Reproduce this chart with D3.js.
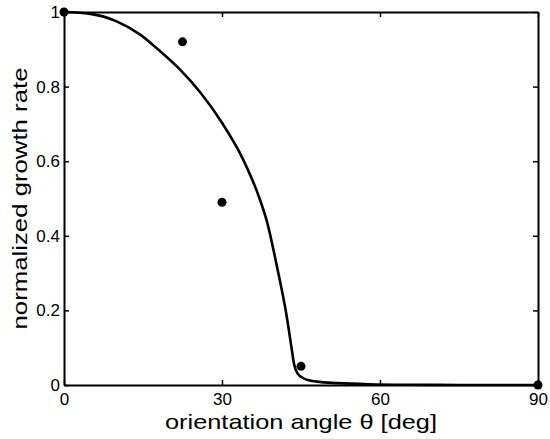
<!DOCTYPE html>
<html><head><meta charset="utf-8">
<script src="https://cdn.jsdelivr.net/npm/d3@7"></script>
<style>body{margin:0;background:#fff}svg text{font-family:"Liberation Sans",Arial,sans-serif;fill:#000}</style>
</head><body><svg id="c" width="550" height="439"></svg>
<script>
const curveTheta = [0, 5, 10, 14.4, 18, 22, 26, 30, 34, 37, 38.5, 40.4, 42.3, 43.2, 43.7, 44.3, 45.5, 48, 52, 58, 65, 75, 90];
const curveRate  = [1, 0.995, 0.975, 0.94, 0.898, 0.846, 0.782, 0.703, 0.605, 0.505, 0.44, 0.32, 0.183, 0.10, 0.055, 0.032, 0.018, 0.009, 0.005, 0.002, 0.0007, 0.0002, 0];
const pointTheta = [0, 22.5, 30, 45, 90];
const pointRate  = [1, 0.92, 0.49, 0.05, 0];
const xTicks = [0, 30, 60, 90];
const yTicks = [0, 0.2, 0.4, 0.6, 0.8, 1];

const svg = d3.select("#c");
const L = 64, R = 538, T = 12, B = 385;
const x = d3.scaleLinear().domain([0, 90]).range([L, R]);
const y = d3.scaleLinear().domain([0, 1]).range([B, T]);
const fmt = d => d === 0 || d === 1 ? String(d) : d3.format(".1f")(d);

const ax = (gen, tx, ty) => {
  const g = svg.append("g").attr("transform", `translate(${tx},${ty})`).call(gen);
  g.selectAll("path.domain").attr("stroke", "#000").attr("stroke-width", 2);
  g.selectAll(".tick line").attr("stroke", "#000").attr("stroke-width", 1.5);
  g.selectAll("text").attr("font-size", 17).attr("font-family", '"Liberation Sans",Arial,sans-serif');
  return g;
};
ax(d3.axisBottom(x).tickValues(xTicks).tickSize(-5).tickSizeOuter(0).tickPadding(8).tickFormat(d3.format("d")), 0, B);
ax(d3.axisTop(x).tickValues(xTicks).tickSize(-5).tickSizeOuter(0).tickFormat(""), 0, T);
ax(d3.axisLeft(y).tickValues(yTicks).tickSize(-5).tickSizeOuter(0).tickPadding(4).tickFormat(fmt), L, 0);
ax(d3.axisRight(y).tickValues(yTicks).tickSize(-5).tickSizeOuter(0).tickFormat(""), R, 0);

const curve = curveTheta.map((t, i) => [t, curveRate[i]]);
svg.append("path").datum(curve)
  .attr("fill", "none").attr("stroke", "#000").attr("stroke-width", 2.6)
  .attr("d", d3.line().x(d => x(d[0])).y(d => y(d[1])).curve(d3.curveMonotoneX));

svg.selectAll("circle.pt").data(pointTheta.map((t, i) => [t, pointRate[i]]))
  .enter().append("circle").attr("class", "pt")
  .attr("cx", d => x(d[0])).attr("cy", d => y(d[1])).attr("r", 4.5).attr("fill", "#000");

svg.append("text").attr("x", (L + R) / 2).attr("y", 429).attr("text-anchor", "middle")
  .attr("font-size", 21).attr("textLength", 272).attr("lengthAdjust", "spacingAndGlyphs")
  .text("orientation angle θ [deg]");
svg.append("text").attr("transform", `translate(27,${(T + B) / 2}) rotate(-90)`).attr("text-anchor", "middle")
  .attr("font-size", 21).attr("textLength", 262).attr("lengthAdjust", "spacingAndGlyphs")
  .text("normalized growth rate");
</script></body></html>
